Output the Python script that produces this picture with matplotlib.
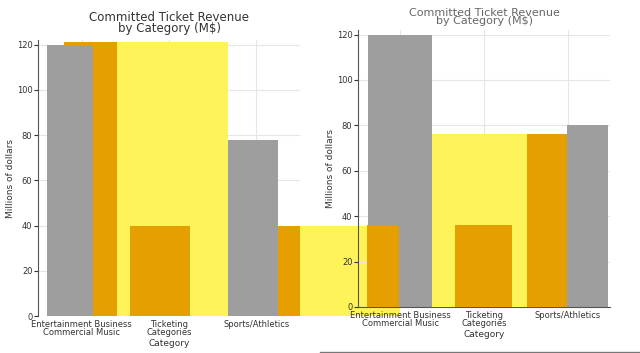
# Libraries
import numpy as np
import matplotlib.pyplot as plt
from matplotlib.lines import Line2D

# Data
categories = ["Entertainment Business\nCommercial Music", "Ticketing\nCategories", "Sports/Athletics"]
left_grey = [120, 0, 78]
left_orange = [121, 40, 40]
left_yellow = [0, 121, 40]
right_grey = [120, 0, 80]
right_orange = [36, 36, 76]
right_yellow = [0, 76, 0]
y_ticks = [0, 20, 40, 60, 80, 100, 120]

# Colours
GREY = "#9e9e9e"
ORANGE = "#e69f00"
YELLOW = "#fff35a"
TEXT = "#333333"

# Bar layout (offsets / widths in category units)
L_GREY_OFF, L_GREY_W = [-0.13, 0, -0.04], [0.53, 0, 0.57]
L_ORANGE_OFF, L_ORANGE_W = [0.1, -0.1, 0.2], [0.6, 0.69, 0.6]
L_YELLOW_OFF, L_YELLOW_W = [0, 0.04, 0.86], [0, 1.27, 1.57]
R_GREY_OFF, R_GREY_W = [0, 0, 0.23], [0.77, 0, 0.49]
R_ORANGE_OFF, R_ORANGE_W = [-0.2, -0.01, -0.25], [0.38, 0.68, 0.48]
R_YELLOW_OFF, R_YELLOW_W = [0, 0.17, 0], [0, 1.58, 0]

fig = plt.figure(figsize=(6.4, 3.53), dpi=100)
W, H = 640, 353

# Axes placed in pixel terms
def add_axes(left, right, top, bottom):
    return fig.add_axes([left / W, 1 - bottom / H, (right - left) / W, (bottom - top) / H])

ax1 = add_axes(38, 300, 40, 316)
ax2 = add_axes(358, 610, 30, 307)
ax2.set_facecolor("none")

x = np.arange(len(categories))

# Left panel
ax1.bar(x + np.array(L_YELLOW_OFF), left_yellow, width=L_YELLOW_W, color=YELLOW, zorder=2, clip_on=False)
ax1.bar(x + np.array(L_ORANGE_OFF), left_orange, width=L_ORANGE_W, color=ORANGE, zorder=3)
ax1.bar(x + np.array(L_GREY_OFF), left_grey, width=L_GREY_W, color=GREY, zorder=4)

# Right panel
ax2.bar(x + np.array(R_GREY_OFF), right_grey, width=R_GREY_W, color=GREY, zorder=2)
ax2.bar(x + np.array(R_YELLOW_OFF), right_yellow, width=R_YELLOW_W, color=YELLOW, zorder=3)
ax2.bar(x + np.array(R_ORANGE_OFF), right_orange, width=R_ORANGE_W, color=ORANGE, zorder=4)

for ax in (ax1, ax2):
    ax.set_xlim(-0.5, 2.5)
    ax.set_ylim(0, 122)
    ax.set_yticks(y_ticks)
    ax.set_xticks(x)
    ax.set_xticklabels(categories, fontsize=6, color=TEXT, linespacing=0.9)
    ax.tick_params(axis="y", labelsize=6, colors=TEXT, length=3, pad=1)
    ax.tick_params(axis="x", length=0, pad=3)
    ax.grid(True, color="#e6e6e6", linewidth=0.8, zorder=0)
    for side in ("top", "right"):
        ax.spines[side].set_visible(False)
    ax.spines["left"].set_color("#555555")
    ax.spines["bottom"].set_color("#555555")
    ax.set_xlabel("Category", fontsize=6.5, color=TEXT, labelpad=1)
    ax.set_ylabel("Millions of dollars", fontsize=6.5, color=TEXT, labelpad=1)

ax1.spines["bottom"].set_visible(False)
ax1.set_title("Committed Ticket Revenue\nby Category (M$)", fontsize=8.5, color=TEXT, linespacing=0.8, pad=6)
ax2.set_title("Committed Ticket Revenue\nby Category (M$)", fontsize=8, color="#666666", linespacing=0.8, pad=4)

# Frame line of the right image
fig.add_artist(Line2D([320 / W, 1], [1.5 / H, 1.5 / H], color="#777777", linewidth=1))

# Save plot
plt.savefig("out.png", dpi=100)
plt.clf()
